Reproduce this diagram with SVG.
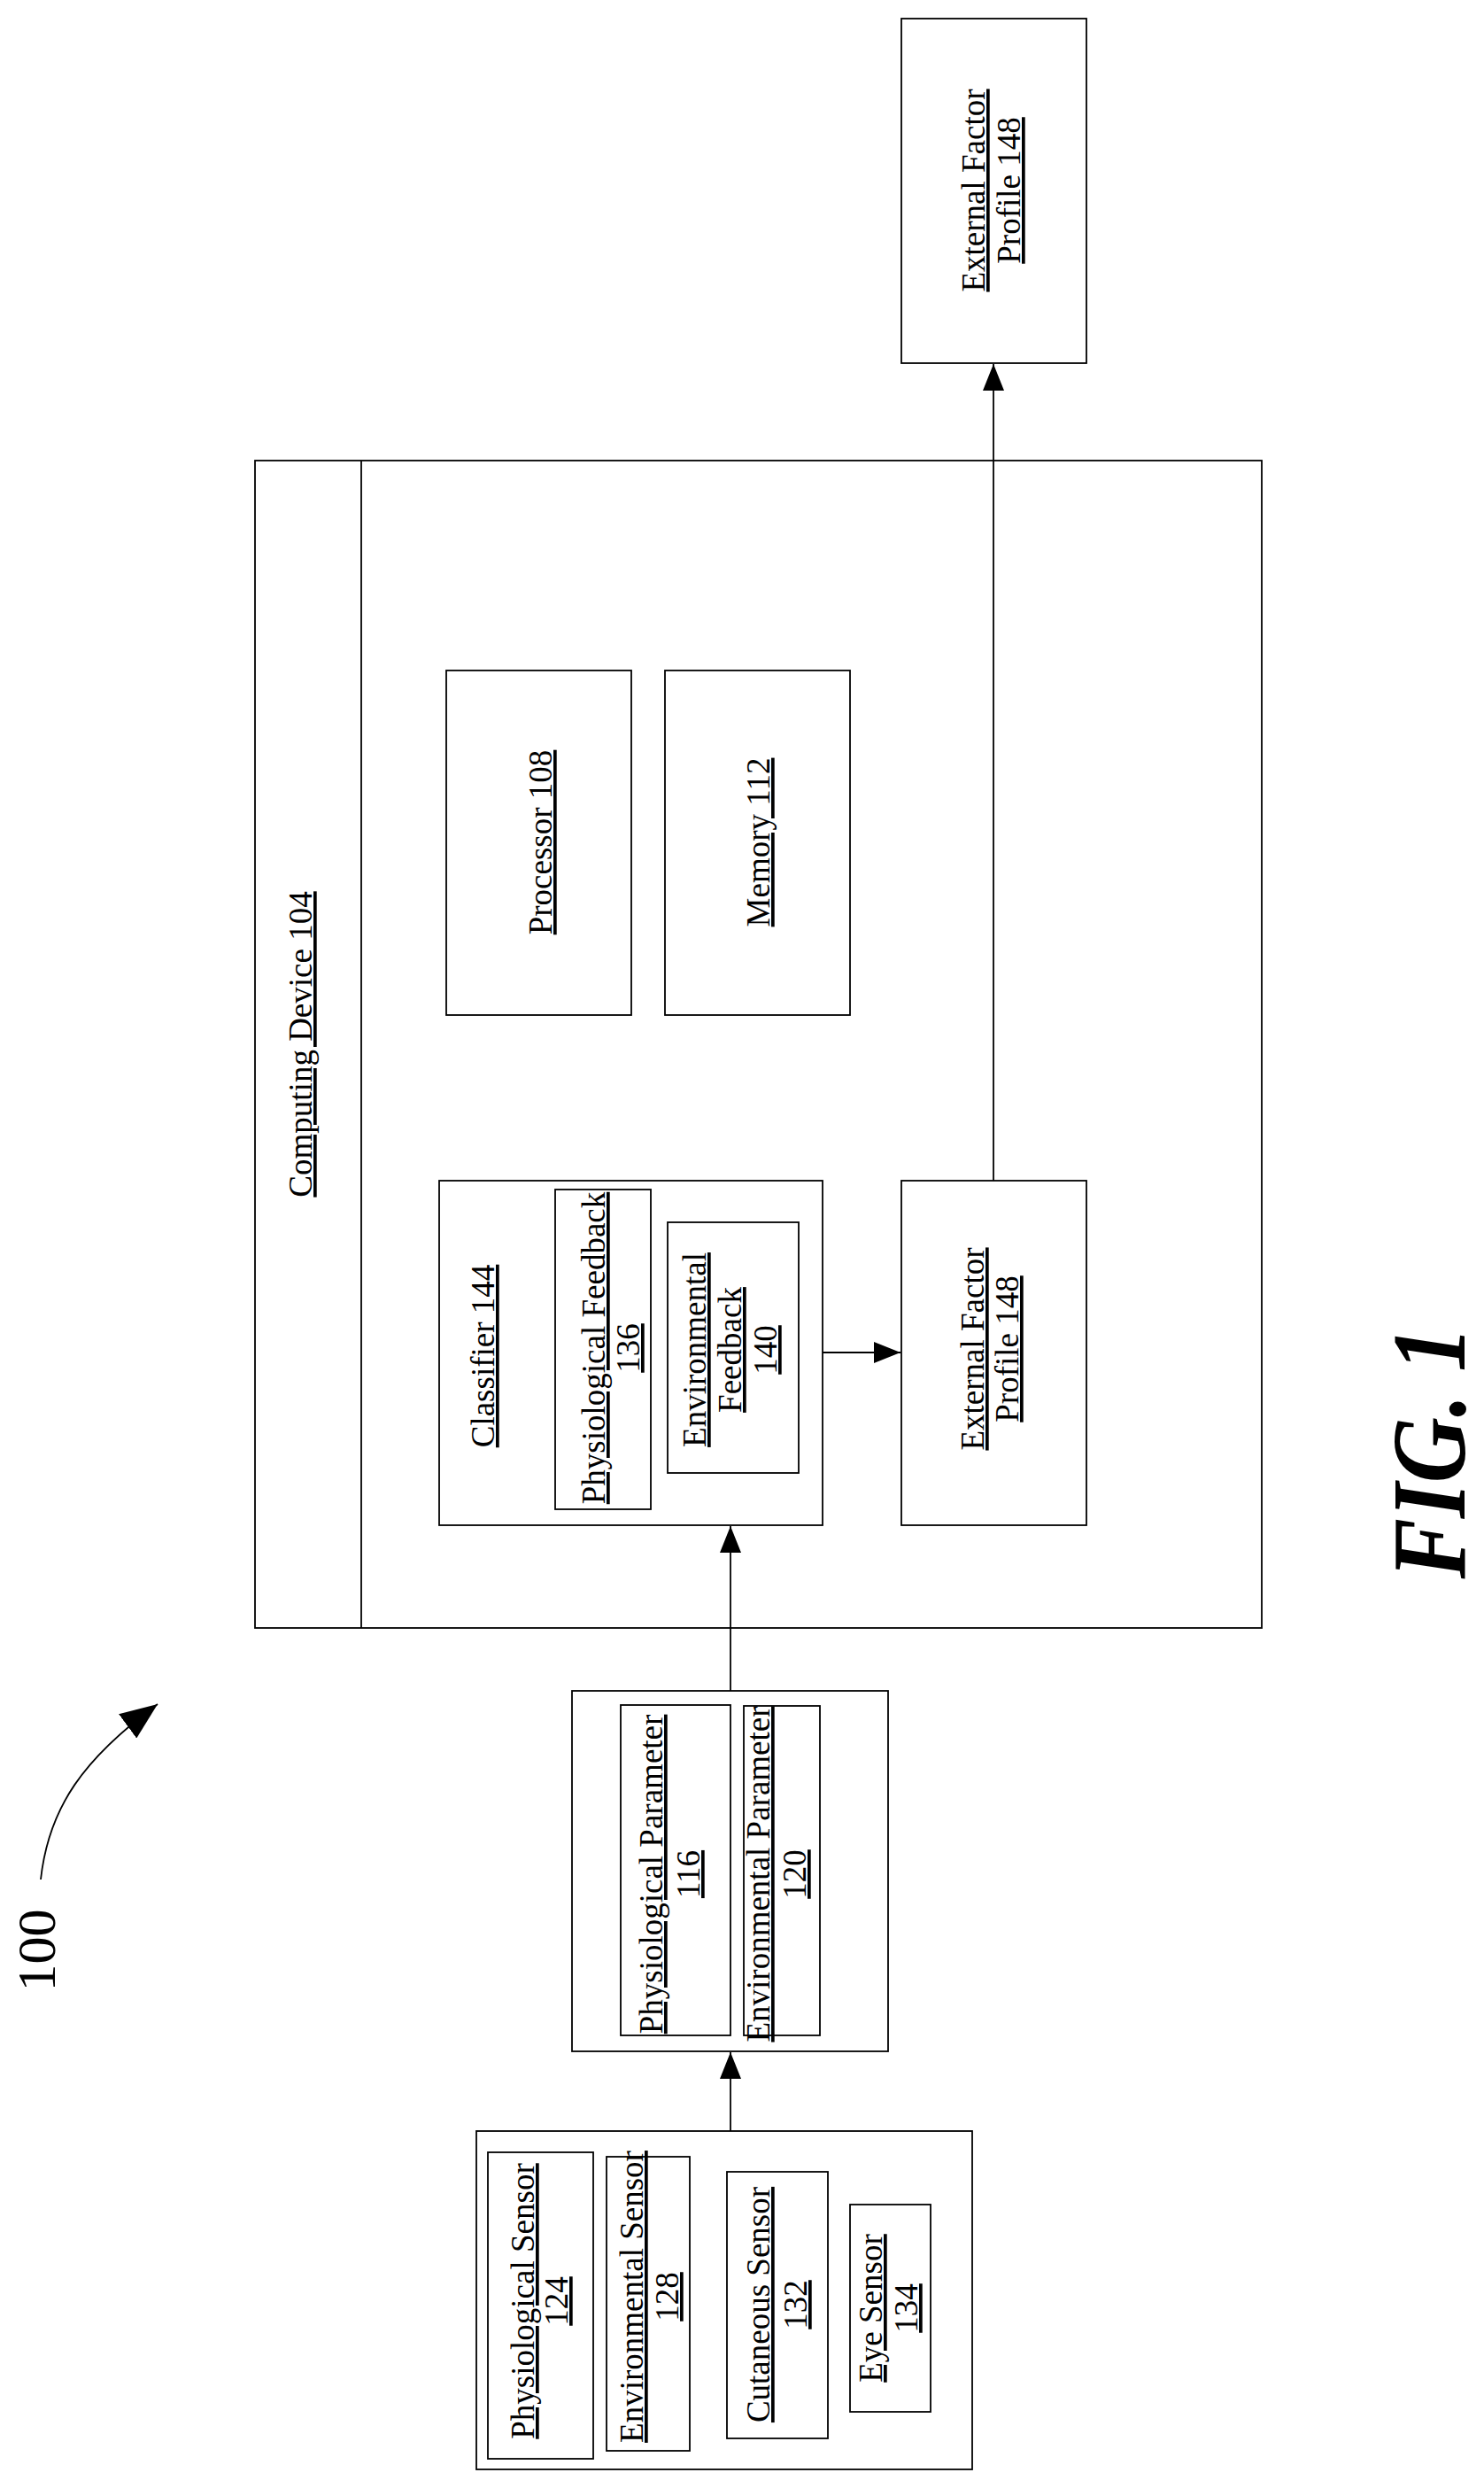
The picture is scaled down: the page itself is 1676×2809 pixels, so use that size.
<svg xmlns="http://www.w3.org/2000/svg" width="1676" height="2809" viewBox="0 0 1676 2809">
<style>
rect{fill:none;stroke:#000;stroke-width:1.8}
text{font-family:"Liberation Serif","Times New Roman",serif;font-size:37px;text-anchor:middle;fill:#000}
.u{text-decoration:underline}
.c{stroke:#000;stroke-width:1.8;fill:none}
</style>
<defs>
<marker id="ah" markerWidth="30" markerHeight="24" refX="30" refY="12" orient="auto" markerUnits="userSpaceOnUse">
<path d="M0,0 L30,12 L0,24 Z" fill="#000"/>
</marker>
<marker id="big" markerWidth="42" markerHeight="34" refX="42" refY="17" orient="auto" markerUnits="userSpaceOnUse">
<path d="M0,0 L42,17 L0,34 Z" fill="#000"/>
</marker>
</defs>
<g id="ext-top">
<rect x="1018" y="21" width="209" height="389"/>
<text class="u" transform="translate(1112,215) rotate(-90)">External Factor</text>
<text class="u" transform="translate(1152,215) rotate(-90)">Profile 148</text>
</g>
<g id="computing-device">
<rect x="288" y="520" width="1137" height="1318"/>
<line class="c" x1="408" y1="520" x2="408" y2="1838"/>
<text class="u" transform="translate(352,1179) rotate(-90)">Computing Device 104</text>
</g>
<g id="processor">
<rect x="504" y="757" width="209" height="389"/>
<text class="u" transform="translate(623,951) rotate(-90)">Processor 108</text>
</g>
<g id="memory">
<rect x="751" y="757" width="209" height="389"/>
<text class="u" transform="translate(869,951) rotate(-90)">Memory 112</text>
</g>
<g id="classifier">
<rect x="496" y="1333" width="433" height="389"/>
<text class="u" transform="translate(558,1531) rotate(-90)">Classifier 144</text>
</g>
<g id="phys-feedback">
<rect x="627" y="1343" width="108" height="361"/>
<text class="u" transform="translate(683,1522) rotate(-90)">Physiological Feedback</text>
<text class="u" transform="translate(722,1522) rotate(-90)">136</text>
</g>
<g id="env-feedback">
<rect x="754" y="1380" width="148" height="283"/>
<text class="u" transform="translate(797,1524) rotate(-90)">Environmental</text>
<text class="u" transform="translate(837,1524) rotate(-90)">Feedback</text>
<text class="u" transform="translate(877,1524) rotate(-90)">140</text>
</g>
<g id="ext-lower">
<rect x="1018" y="1333" width="209" height="389"/>
<text class="u" transform="translate(1111,1523) rotate(-90)">External Factor</text>
<text class="u" transform="translate(1150,1523) rotate(-90)">Profile 148</text>
</g>
<g id="params">
<rect x="646" y="1909" width="357" height="407"/>
</g>
<g id="phys-param">
<rect x="701" y="1925" width="124" height="373"/>
<text class="u" transform="translate(748,2116) rotate(-90)">Physiological Parameter</text>
<text class="u" transform="translate(790,2116) rotate(-90)">116</text>
</g>
<g id="env-param">
<rect x="840" y="1926" width="86" height="372"/>
<text class="u" transform="translate(869,2116) rotate(-90)">Environmental Parameter</text>
<text class="u" transform="translate(910,2116) rotate(-90)">120</text>
</g>
<g id="sensors">
<rect x="538" y="2406" width="560" height="382"/>
</g>
<g id="phys-sensor">
<rect x="551" y="2430" width="119" height="346"/>
<text class="u" transform="translate(603,2598) rotate(-90)">Physiological Sensor</text>
<text class="u" transform="translate(641,2598) rotate(-90)">124</text>
</g>
<g id="env-sensor">
<rect x="685" y="2435" width="94" height="332"/>
<text class="u" transform="translate(726,2593) rotate(-90)">Environmental Sensor</text>
<text class="u" transform="translate(766,2593) rotate(-90)">128</text>
</g>
<g id="cutaneous-sensor">
<rect x="821" y="2452" width="114" height="301"/>
<text class="u" transform="translate(869,2602) rotate(-90)">Cutaneous Sensor</text>
<text class="u" transform="translate(911,2602) rotate(-90)">132</text>
</g>
<g id="eye-sensor">
<rect x="960" y="2489" width="91" height="234"/>
<text class="u" transform="translate(996,2606) rotate(-90)">Eye Sensor</text>
<text class="u" transform="translate(1036,2606) rotate(-90)">134</text>
</g>
<g id="connectors">
<line class="c" x1="825" y1="2406" x2="825" y2="2317" marker-end="url(#ah)"/>
<line class="c" x1="825" y1="1909" x2="825" y2="1723" marker-end="url(#ah)"/>
<line class="c" x1="929" y1="1527" x2="1017" y2="1527" marker-end="url(#ah)"/>
<line class="c" x1="1122" y1="1333" x2="1122" y2="411" marker-end="url(#ah)"/>
<path class="c" d="M46,2122 C55,2040 95,1985 178,1924" stroke-width="3" marker-end="url(#big)"/>
</g>
<g id="labels">
<text transform="translate(62,2202) rotate(-90)" style="font-size:62px">100</text>
<text transform="translate(1654,1640) rotate(-90)" style="font-size:118px;font-weight:bold;font-style:italic" textLength="285" lengthAdjust="spacingAndGlyphs">FIG. 1</text>
</g>
</svg>
